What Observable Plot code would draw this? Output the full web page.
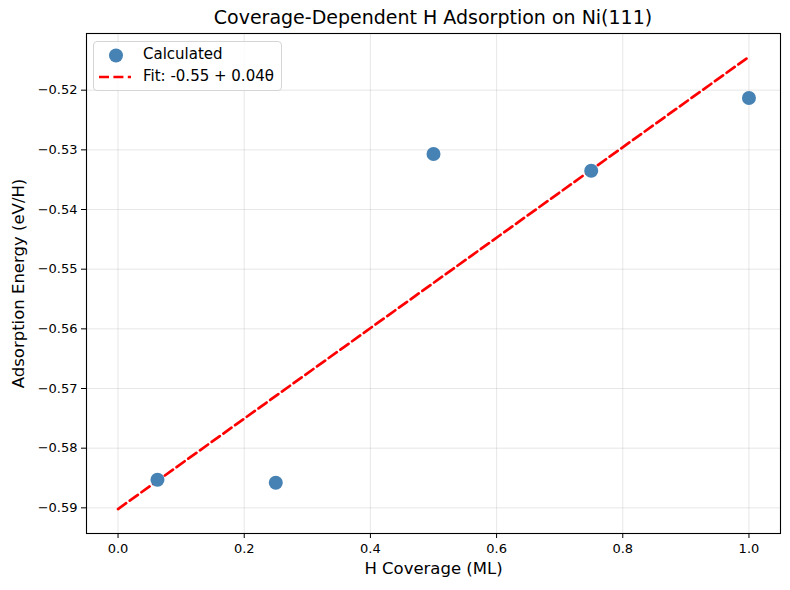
<!DOCTYPE html>
<html>
<head>
<meta charset="utf-8">
<script src="https://cdn.jsdelivr.net/npm/d3@7"></script>
<script src="https://cdn.jsdelivr.net/npm/@observablehq/plot@0.6"></script>
<style>
  body { margin: 0; background: #fff; font-family: "DejaVu Sans", sans-serif; }
  #wrap { position: relative; width: 790px; height: 590px; }
  #title { position: absolute; left: 86px; width: 694px; top: 6px; text-align: center; font-size: 19px; color: #000; }
  #legend { position: absolute; left: 93px; top: 41px; width: 189px; height: 50px; border: 1px solid #d5d5d5; border-radius: 4px; background: rgba(255,255,255,0.8); font-size: 15px; box-sizing: border-box; }
  #legend .lbl { position: absolute; left: 49px; white-space: nowrap; }
  svg g[aria-label="x-axis label"] text, svg g[aria-label="y-axis label"] text { font-size: 16.5px; }
</style>
</head>
<body>
<div id="wrap">
  <div id="chart"></div>
  <div id="title">Coverage-Dependent H Adsorption on Ni(111)</div>
  <div id="legend">
    <svg width="44" height="48" style="position:absolute;left:0;top:0">
      <circle cx="22" cy="13.5" r="7" fill="steelblue"></circle>
      <line x1="5" x2="37" y1="35" y2="35" stroke="red" stroke-width="2.7" stroke-dasharray="10,4.4"></line>
    </svg>
    <div class="lbl" style="top:3px">Calculated</div>
    <div class="lbl" style="top:25px">Fit: -0.55 + 0.04θ</div>
  </div>
</div>
<script>
const coverage = [0.0625, 0.25, 0.5, 0.75, 1.0];
const energy = [-0.5853, -0.5858, -0.5307, -0.5335, -0.5213];
const fitX = [0, 1];
const fitY = [-0.5902, -0.5144];
const xTicks = [0, 0.2, 0.4, 0.6, 0.8, 1.0];
const yTicks = [-0.59, -0.58, -0.57, -0.56, -0.55, -0.54, -0.53, -0.52];

const points = coverage.map((c, i) => ({x: c, y: energy[i]}));
const fit = fitX.map((c, i) => ({x: c, y: fitY[i]}));

const chart = Plot.plot({
  width: 790,
  height: 590,
  marginLeft: 86,
  marginRight: 10,
  marginTop: 33,
  marginBottom: 57,
  style: {fontFamily: "DejaVu Sans, sans-serif", fontSize: "13px", color: "#000", background: "#fff"},
  x: {domain: [-0.05, 1.05], ticks: xTicks, tickFormat: d3.format(".1f")},
  y: {domain: [-0.5943, -0.5105], ticks: yTicks, tickFormat: d3.format(".2f")},
  marks: [
    Plot.gridX(xTicks, {stroke: "#b0b0b0", strokeOpacity: 0.3, strokeWidth: 1}),
    Plot.gridY(yTicks, {stroke: "#b0b0b0", strokeOpacity: 0.3, strokeWidth: 1}),
    Plot.axisX(xTicks, {tickSize: 5, tickPadding: 5, tickFormat: d3.format(".1f"), label: "H Coverage (ML)", labelAnchor: "center", labelArrow: "none", labelOffset: 40}),
    Plot.axisY(yTicks, {tickSize: 5, tickPadding: 4, tickFormat: d3.format(".2f"), label: "Adsorption Energy (eV/H)", labelAnchor: "center", labelArrow: "none", labelOffset: 74}),
    Plot.line(fit, {x: "x", y: "y", stroke: "red", strokeWidth: 2.7, strokeDasharray: "10,4.4"}),
    Plot.dot(points, {x: "x", y: "y", r: 7, fill: "steelblue", stroke: "none"}),
    Plot.frame({stroke: "#000", strokeWidth: 1.1})
  ]
});
document.getElementById("chart").appendChild(chart);
</script>
</body>
</html>
